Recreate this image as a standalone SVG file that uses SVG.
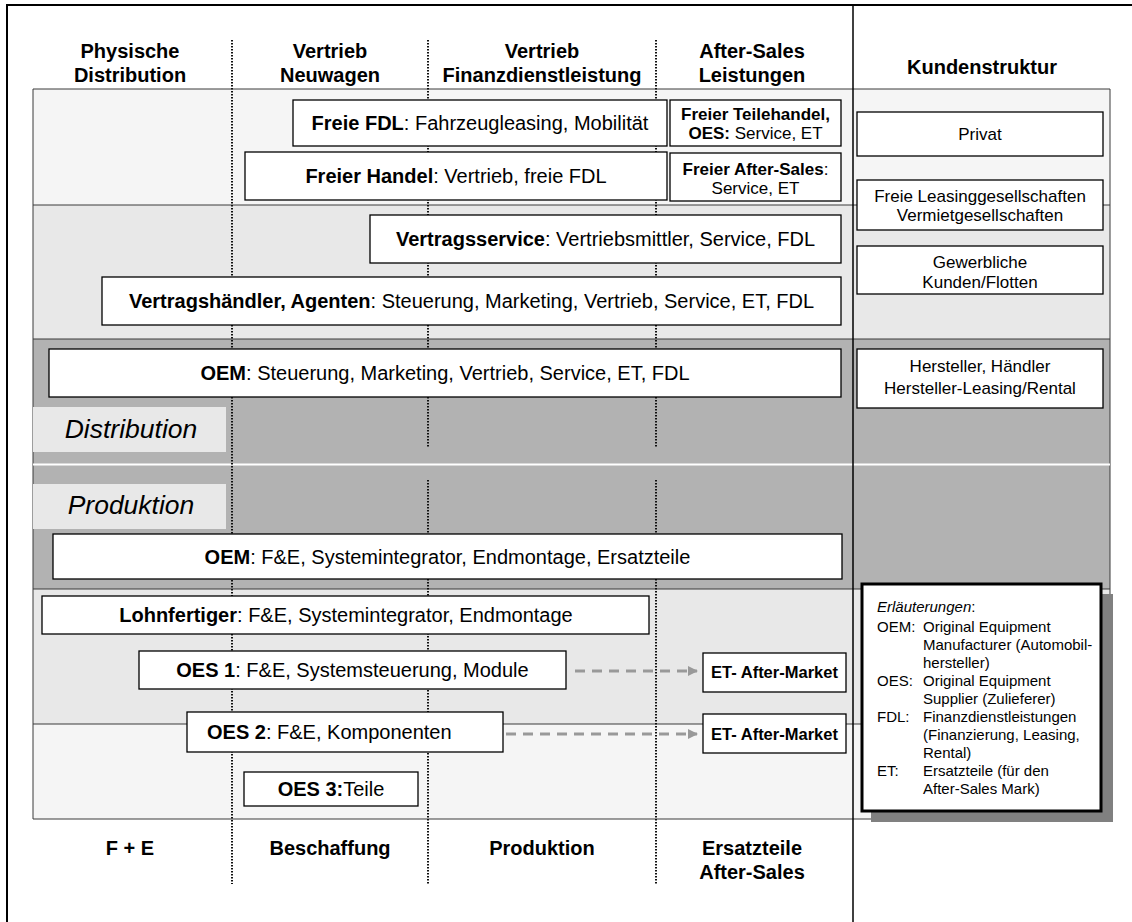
<svg xmlns="http://www.w3.org/2000/svg" width="1132" height="922" viewBox="0 0 1132 922">
<style>
text{font-family:"Liberation Sans",Arial,sans-serif;fill:#000}
.hd{font-size:20px;font-weight:bold;text-anchor:middle}
.bx{fill:#fff;stroke:#000;stroke-width:1.3}
.t20{font-size:20px;text-anchor:middle}
.t17{font-size:17px;text-anchor:middle}
.et{font-size:16.5px;font-weight:bold;text-anchor:middle}
.b{font-weight:bold}
.lab{font-size:26.5px;font-style:italic;text-anchor:middle}
.lg{font-size:15px}
.sep{stroke:#3a3a3a;stroke-width:1}
.dot{stroke:#111;stroke-width:2;stroke-dasharray:1.5 1.5}
.arr{stroke:#999;stroke-width:3;stroke-dasharray:10 7;fill:none}
</style>
<defs>
<marker id="ah" markerWidth="10" markerHeight="10" refX="9" refY="5" orient="auto" markerUnits="userSpaceOnUse">
<path d="M0,0 L10,5 L0,10 Z" fill="#999"/>
</marker>
</defs>
<rect width="1132" height="922" fill="#fff"/>
<g id="bands">
<rect x="33" y="89" width="1077" height="116" fill="#f5f5f5"/>
<rect x="33" y="205" width="1077" height="134" fill="#e8e8e8"/>
<rect x="33" y="339" width="1077" height="250" fill="#b2b2b2"/>
<rect x="33" y="589" width="1077" height="135" fill="#e8e8e8"/>
<rect x="33" y="724" width="1077" height="95" fill="#f5f5f5"/>
<path class="sep" d="M33,89H1110M33,205H1110M33,339H1110M33,589H1110M33,724H1110M33,819H1110M33,89V819M1110,89V819" fill="none"/>
<line x1="33" y1="464.5" x2="1110" y2="464.5" stroke="#fff" stroke-width="2"/>
</g>
<g id="frame" fill="none" stroke="#000">
<path d="M7,922V5H1132" stroke-width="2"/>
<line x1="853" y1="5" x2="853" y2="922" stroke-width="1.5"/>
</g>
<g id="gridlines">
<line class="dot" x1="232" y1="40" x2="232" y2="884"/>
<line class="dot" x1="428" y1="40" x2="428" y2="447"/>
<line class="dot" x1="428" y1="480" x2="428" y2="884"/>
<line class="dot" x1="656" y1="40" x2="656" y2="447"/>
<line class="dot" x1="656" y1="480" x2="656" y2="884"/>
</g>
<g id="headers">
<text class="hd" x="130" y="58">Physische</text>
<text class="hd" x="130" y="82">Distribution</text>
<text class="hd" x="330" y="58">Vertrieb</text>
<text class="hd" x="330" y="82">Neuwagen</text>
<text class="hd" x="542" y="58">Vertrieb</text>
<text class="hd" x="542" y="82">Finanzdienstleistung</text>
<text class="hd" x="752" y="58">After-Sales</text>
<text class="hd" x="752" y="82">Leistungen</text>
<text class="hd" x="982" y="74">Kundenstruktur</text>
<text class="hd" x="130" y="855">F + E</text>
<text class="hd" x="330" y="855">Beschaffung</text>
<text class="hd" x="542" y="855">Produktion</text>
<text class="hd" x="752" y="855">Ersatzteile</text>
<text class="hd" x="752" y="879">After-Sales</text>
</g>
<g id="labels">
<rect x="33" y="407" width="193" height="45" fill="#e8e8e8"/>
<text class="lab" x="131" y="438">Distribution</text>
<rect x="33" y="484" width="193" height="45" fill="#e8e8e8"/>
<text class="lab" x="131" y="514">Produktion</text>
</g>
<g id="connectors">
<line class="arr" x1="575" y1="671" x2="697" y2="671" marker-end="url(#ah)"/>
<line class="arr" x1="506" y1="734" x2="697" y2="734" marker-end="url(#ah)"/>
</g>
<g id="freie-fdl"><rect class="bx" x="293" y="100" width="374" height="46"/><text class="t20" x="480" y="130"><tspan class="b">Freie FDL</tspan>: Fahrzeugleasing, Mobilität</text></g>
<g id="freier-handel"><rect class="bx" x="245" y="152" width="422" height="48"/><text class="t20" x="456" y="183"><tspan class="b">Freier Handel</tspan>: Vertrieb, freie FDL</text></g>
<g id="freier-teilehandel"><rect class="bx" x="670" y="100" width="171" height="46"/><text class="t17" x="755.5" y="120"><tspan class="b">Freier Teilehandel,</tspan></text><text class="t17" x="755.5" y="139"><tspan class="b">OES:</tspan> Service, ET</text></g>
<g id="freier-after-sales"><rect class="bx" x="670" y="153" width="171" height="48"/><text class="t17" x="755.5" y="175"><tspan class="b">Freier After-Sales</tspan>:</text><text class="t17" x="755.5" y="194">Service, ET</text></g>
<g id="vertragsservice"><rect class="bx" x="370" y="215" width="471" height="48"/><text class="t20" x="605.5" y="246"><tspan class="b">Vertragsservice</tspan>: Vertriebsmittler, Service, FDL</text></g>
<g id="vertragshaendler"><rect class="bx" x="102" y="277" width="739" height="48"/><text class="t20" x="471.5" y="308"><tspan class="b">Vertragshändler, Agenten</tspan>: Steuerung, Marketing, Vertrieb, Service, ET, FDL</text></g>
<g id="oem-distribution"><rect class="bx" x="49" y="349" width="792" height="48"/><text class="t20" x="445" y="380"><tspan class="b">OEM</tspan>: Steuerung, Marketing, Vertrieb, Service, ET, FDL</text></g>
<g id="privat"><rect class="bx" x="857" y="112" width="246" height="44"/><text class="t17" x="980" y="140">Privat</text></g>
<g id="freie-leasing"><rect class="bx" x="857" y="180" width="246" height="50"/><text class="t17" x="980" y="202">Freie Leasinggesellschaften</text><text class="t17" x="980" y="221">Vermietgesellschaften</text></g>
<g id="gewerbliche"><rect class="bx" x="857" y="246" width="246" height="48"/><text class="t17" x="980" y="268">Gewerbliche</text><text class="t17" x="980" y="288">Kunden/Flotten</text></g>
<g id="hersteller"><rect class="bx" x="857" y="349" width="246" height="59"/><text class="t17" x="980" y="372">Hersteller, Händler</text><text class="t17" x="980" y="394">Hersteller-Leasing/Rental</text></g>
<g id="oem-produktion"><rect class="bx" x="53" y="534" width="789" height="45"/><text class="t20" x="447.5" y="564"><tspan class="b">OEM</tspan>: F&amp;E, Systemintegrator, Endmontage, Ersatzteile</text></g>
<g id="lohnfertiger"><rect class="bx" x="42" y="596" width="607" height="38"/><text class="t20" x="346" y="622"><tspan class="b">Lohnfertiger</tspan>: F&amp;E, Systemintegrator, Endmontage</text></g>
<g id="oes1"><rect class="bx" x="139" y="651" width="427" height="38"/><text class="t20" x="352.5" y="677"><tspan class="b">OES 1</tspan>: F&amp;E, Systemsteuerung, Module</text></g>
<g id="oes2"><rect class="bx" x="187" y="712" width="316" height="40"/><text class="t20" x="207" y="739" style="text-anchor:start"><tspan class="b">OES 2</tspan>: F&amp;E, Komponenten</text></g>
<g id="oes3"><rect class="bx" x="244" y="772" width="174" height="34"/><text class="t20" x="331" y="796"><tspan class="b">OES 3:</tspan>Teile</text></g>
<g id="et1"><rect class="bx" x="703" y="653" width="143" height="39"/><text class="et" x="774.5" y="678">ET- After-Market</text></g>
<g id="et2"><rect class="bx" x="703" y="714" width="143" height="39"/><text class="et" x="774.5" y="739.5">ET- After-Market</text></g>
<g id="legend">
<rect x="871" y="594" width="242" height="228" fill="#808080"/>
<rect x="862" y="584" width="239" height="227" fill="#fff" stroke="#000" stroke-width="3"/>
<text class="lg" x="877" y="612"><tspan font-style="italic">Erläuterungen</tspan>:</text>
<text class="lg" x="877" y="632">OEM:</text>
<text class="lg" x="923" y="632">Original Equipment</text>
<text class="lg" x="923" y="650">Manufacturer (Automobil-</text>
<text class="lg" x="923" y="668">hersteller)</text>
<text class="lg" x="877" y="686">OES:</text>
<text class="lg" x="923" y="686">Original Equipment</text>
<text class="lg" x="923" y="704">Supplier (Zulieferer)</text>
<text class="lg" x="877" y="722">FDL:</text>
<text class="lg" x="923" y="722">Finanzdienstleistungen</text>
<text class="lg" x="923" y="740">(Finanzierung, Leasing,</text>
<text class="lg" x="923" y="758">Rental)</text>
<text class="lg" x="877" y="776">ET:</text>
<text class="lg" x="923" y="776">Ersatzteile (für den</text>
<text class="lg" x="923" y="794">After-Sales Mark)</text>
</g>
</svg>
